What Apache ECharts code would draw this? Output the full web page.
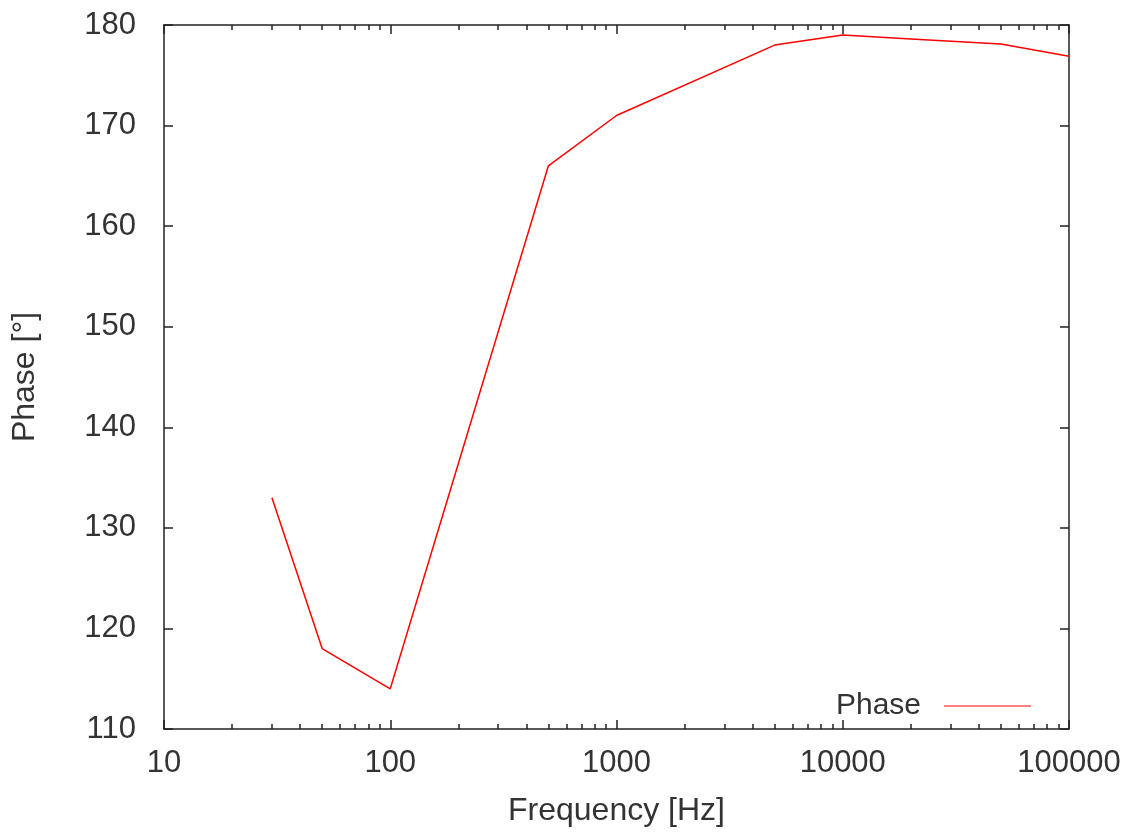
<!DOCTYPE html>
<html>
<head>
<meta charset="utf-8">
<script src="https://cdn.jsdelivr.net/npm/echarts@6/dist/echarts.min.js"></script>
<style>
html,body{margin:0;padding:0;background:#fff;}
#chart{width:1132px;height:832px;}
</style>
</head>
<body>
<div id="chart"></div>
<script>
const frequency = [30, 50, 100, 500, 1000, 5000, 10000, 20000, 50000, 100000];
const phase = [133, 118, 114, 166, 171, 178, 179, 178.6, 178.1, 176.9];
const xMajorTicks = [10, 100, 1000, 10000, 100000];
const xMinorTicks = [];
for (let d = 10; d < 100000; d *= 10) {
  for (let m = 2; m <= 9; m++) xMinorTicks.push(d * m);
}
const seriesName = 'Phase';
const xName = 'Frequency [Hz]';
const yName = 'Phase [°]';

const FONT = 'Liberation Sans';
const FS_LABEL = 31;
const FS_NAME = 32;
const FS_LEGEND = 30;
const TXT = '#333';
const AX = '#222';

const chart = echarts.init(document.getElementById('chart'), null, {renderer: 'canvas'});
const grid = {left: 164, right: 63, top: 25, bottom: 102, containLabel: false};

function logAxis(pos, opts) {
  return Object.assign({
    type: 'log', logBase: 10, min: 10, max: 100000, position: pos,
    axisLine: {show: true, lineStyle: {color: AX, width: 1.5}},
    splitLine: {show: false}, minorTick: {show: false}, minorSplitLine: {show: false},
    axisLabel: {show: false}
  }, opts);
}
function valAxis(pos, opts) {
  return Object.assign({
    type: 'value', min: 110, max: 180, interval: 10, position: pos,
    axisLine: {show: true, lineStyle: {color: AX, width: 1.5}},
    splitLine: {show: false},
    axisTick: {show: true, inside: true, length: 9, lineStyle: {color: AX, width: 1.5}},
    axisLabel: {show: false}
  }, opts);
}

const option = {
  animation: false,
  backgroundColor: '#fff',
  textStyle: {fontFamily: FONT},
  grid: grid,
  legend: {
    data: [seriesName], right: 96, top: 686, align: 'right',
    itemWidth: 87, itemHeight: 10, itemGap: 10,
    icon: 'path://M0,4.5 L87,4.5 L87,5.5 L0,5.5 Z',
    textStyle: {fontFamily: FONT, fontSize: FS_LEGEND, color: TXT, padding: [0, 18, 0, 0]}
  },
  xAxis: [
    logAxis('bottom', {
      name: xName, nameLocation: 'middle', nameGap: 66,
      nameTextStyle: {fontFamily: FONT, fontSize: FS_NAME, color: TXT},
      axisTick: {show: true, inside: true, length: 9, lineStyle: {color: AX, width: 1.5}, customValues: xMajorTicks},
      axisLabel: {show: true, fontFamily: FONT, fontSize: FS_LABEL, color: TXT, margin: 19, customValues: xMajorTicks,
        formatter: v => String(Math.round(v))}
    }),
    logAxis('top', {
      axisTick: {show: true, inside: true, length: 9, lineStyle: {color: AX, width: 1.5}, customValues: xMajorTicks}
    }),
    logAxis('bottom', {
      axisLine: {show: false},
      axisTick: {show: true, inside: true, length: 5, lineStyle: {color: AX, width: 1.5}, customValues: xMinorTicks}
    }),
    logAxis('top', {
      axisLine: {show: false},
      axisTick: {show: true, inside: true, length: 5, lineStyle: {color: AX, width: 1.5}, customValues: xMinorTicks}
    })
  ],
  yAxis: [
    valAxis('left', {
      name: yName, nameLocation: 'middle', nameGap: 123, nameRotate: 90,
      nameTextStyle: {fontFamily: FONT, fontSize: FS_NAME, color: TXT},
      axisLabel: {show: true, fontFamily: FONT, fontSize: FS_LABEL, color: TXT, margin: 28}
    }),
    valAxis('right', {})
  ],
  series: [{
    name: seriesName, type: 'line',
    xAxisIndex: 0, yAxisIndex: 0,
    data: frequency.map((f, i) => [f, phase[i]]),
    showSymbol: false, symbol: 'none',
    lineStyle: {color: '#ff0000', width: 1.5},
    itemStyle: {color: '#ff0000'}
  }]
};
chart.setOption(option);
</script>
</body>
</html>
